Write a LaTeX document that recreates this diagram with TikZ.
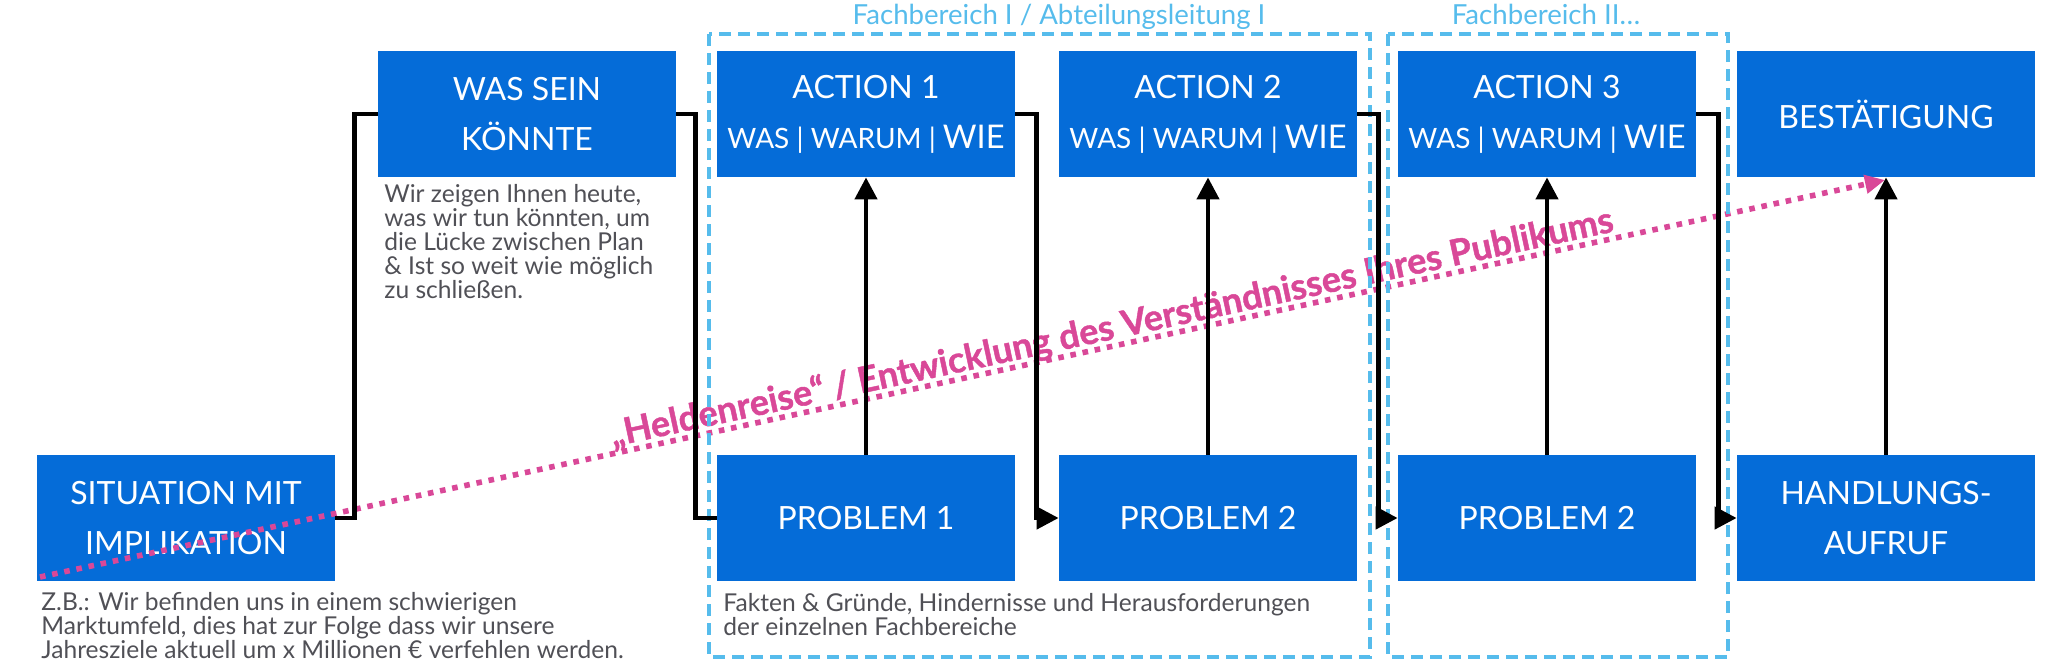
\documentclass[tikz,border=0pt]{standalone}
\usepackage{fontspec}
\setmainfont{Lato}
\newfontfamily\journeyfont{Lato}[BoldFeatures={FakeBold=1.2}]
\usetikzlibrary{arrows.meta}
\definecolor{boxblue}{RGB}{5,108,216}
\definecolor{areablue}{RGB}{86,188,236}
\definecolor{journeypink}{RGB}{217,72,152}
\definecolor{notegray}{RGB}{80,80,86}

\begin{document}
\begin{tikzpicture}[x=0.5pt,y=-0.5pt,
        stagebox/.style={fill=boxblue,text=white,minimum width=149pt,minimum height=63pt,inner sep=0pt,align=center,font=\fontsize{16}{25}\selectfont},
        linkline/.style={line width=2.2pt},
        linkarrow/.style={linkline,-{Triangle[length=11pt,width=11pt]}},
        areabox/.style={areablue,line width=2.2pt,dash pattern=on 6pt off 3.5pt},
        areatitle/.style={text=areablue,inner sep=0pt,font=\fontsize{13.8}{15}\selectfont},
        notetext/.style={text=notegray,align=left,inner sep=0pt,font=\fontsize{12.3}{12}\selectfont},
        journeyline/.style={journeypink,line width=2.8pt,dash pattern=on 2.8pt off 3.4pt},
        journeytext/.style={text=journeypink,inner sep=0pt,font=\journeyfont\fontsize{18}{20}\selectfont\bfseries}]
        \useasboundingbox (0,0) rectangle (2065,670);
        % top row
        \node[stagebox] (was) at (527,114) {WAS SEIN\\KÖNNTE};
        \node[stagebox] (act1) at (866,114) {ACTION 1\\{\fontsize{14}{25}\selectfont WAS | WARUM | }{\fontsize{16.3}{25}\selectfont WIE}};
        \node[stagebox] (act2) at (1208,114) {ACTION 2\\{\fontsize{14}{25}\selectfont WAS | WARUM | }{\fontsize{16.3}{25}\selectfont WIE}};
        \node[stagebox] (act3) at (1547,114) {ACTION 3\\{\fontsize{14}{25}\selectfont WAS | WARUM | }{\fontsize{16.3}{25}\selectfont WIE}};
        \node[stagebox] (best) at (1886,114) {BESTÄTIGUNG};
        % bottom row
        \node[stagebox] (sit) at (186,518) {SITUATION MIT\\IMPLIKATION};
        \node[stagebox] (prob1) at (866,518) {PROBLEM 1};
        \node[stagebox] (prob2) at (1208,518) {PROBLEM 2};
        \node[stagebox] (prob3) at (1547,518) {PROBLEM 2};
        \node[stagebox] (hand) at (1886,518) {HANDLUNGS-\\AUFRUF};
        % notes
        \node[notetext,anchor=north west] (wasnote) at (384,184) {Wir zeigen Ihnen heute,\\was wir tun könnten, um\\die Lücke zwischen Plan\\\& Ist so weit wie möglich\\zu schließen.};
        \node[notetext,anchor=north west] (sitnote) at (41,592) {Z.B.: Wir befinden uns in einem schwierigen\\Marktumfeld, dies hat zur Folge dass wir unsere\\Jahresziele aktuell um x Millionen € verfehlen werden.};
        \node[notetext,anchor=north west] (probnote) at (723,593) {Fakten \& Gründe, Hindernisse und Herausforderungen\\der einzelnen Fachbereiche};
        % journey
        \coordinate (jstart) at (40,577);
        \coordinate (jend) at (1885,180);
        \draw[journeyline,-{Triangle[length=10pt,width=9pt]}] (jstart) -- (jend);
        \node[journeytext,rotate=12.14,anchor=base] (journeylabel) at (1114,339) {„Heldenreise“ / Entwicklung des Verständnisses Ihres Publikums};
        % departments
        \draw[areabox] (709,34) rectangle (1370,657);
        \draw[areabox] (1388,34) rectangle (1728,657);
        \node[areatitle,anchor=base] (dept1) at (1059,24) {Fachbereich I / Abteilungsleitung I};
        \node[areatitle,anchor=base] (dept2) at (1546,24) {Fachbereich II…};
        % links
        \draw[linkline] (sit.east) -- ++(19,0) |- (was.west);
        \draw[linkline] (was.east) -- ++(19,0) |- (prob1.west);
        \draw[linkarrow] (act1.east) -- ++(21,0) |- (prob2.west);
        \draw[linkarrow] (act2.east) -- ++(21,0) |- (prob3.west);
        \draw[linkarrow] (act3.east) -- ++(22,0) |- (hand.west);
        \draw[linkarrow] (prob1.north) -- (act1.south);
        \draw[linkarrow] (prob2.north) -- (act2.south);
        \draw[linkarrow] (prob3.north) -- (act3.south);
        \draw[linkarrow] (hand.north) -- (best.south);
    \end{tikzpicture}
\end{document}
